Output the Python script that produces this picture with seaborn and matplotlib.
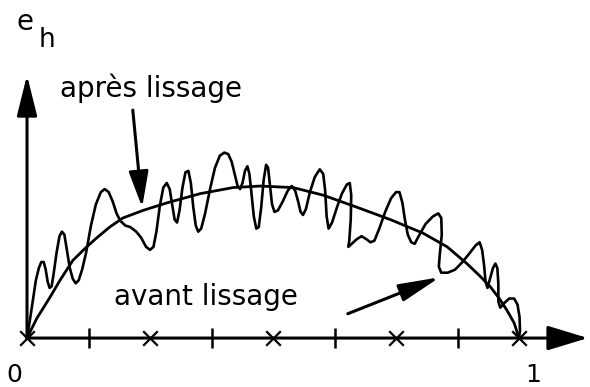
import matplotlib
matplotlib.use("Agg")
import matplotlib.pyplot as plt
import seaborn as sns
import pandas as pd

# courbe lissée (x normalisé, e_h relatif)
smooth_x = [0.0, 0.020, 0.047, 0.067, 0.093, 0.118, 0.142, 0.168, 0.195, 0.236,
            0.285, 0.352, 0.419, 0.474, 0.541, 0.602, 0.671, 0.738, 0.805, 0.854,
            0.894, 0.920, 0.941, 0.960, 0.976, 0.990, 1.0]
smooth_y = [0.0, 0.13, 0.27, 0.38, 0.51, 0.59, 0.66, 0.73, 0.79, 0.84,
            0.89, 0.95, 0.99, 1.0, 0.99, 0.94, 0.86, 0.78, 0.69, 0.60,
            0.49, 0.41, 0.34, 0.26, 0.18, 0.10, 0.0]

# courbe avant lissage (tracé à la main, lu point par point)
raw_x = [0.000, 0.006, 0.012, 0.018, 0.024, 0.029, 0.034, 0.038, 0.042, 0.046,
         0.050, 0.054, 0.060, 0.066, 0.071, 0.076, 0.081, 0.087, 0.093, 0.099,
         0.105, 0.112, 0.120, 0.130, 0.140, 0.150, 0.158, 0.166, 0.174, 0.182,
         0.190, 0.200, 0.210, 0.222, 0.232, 0.242, 0.250, 0.257, 0.263, 0.270,
         0.277, 0.284, 0.290, 0.295, 0.300, 0.305, 0.310, 0.316, 0.322, 0.328,
         0.333, 0.338, 0.343, 0.348, 0.354, 0.362, 0.372, 0.382, 0.392, 0.401,
         0.409, 0.416, 0.422, 0.428, 0.433, 0.438, 0.443, 0.448, 0.452, 0.456,
         0.461, 0.466, 0.471, 0.476, 0.481, 0.486, 0.490, 0.494, 0.498, 0.503,
         0.510, 0.520, 0.530, 0.538, 0.545, 0.551, 0.556, 0.561, 0.567, 0.575,
         0.585, 0.595, 0.602, 0.606, 0.609, 0.613, 0.620, 0.630, 0.640, 0.650,
         0.656, 0.659, 0.658, 0.655, 0.653, 0.660, 0.670, 0.680, 0.690, 0.698,
         0.706, 0.716, 0.728, 0.740, 0.750, 0.757, 0.763, 0.768, 0.774, 0.781,
         0.788, 0.796, 0.810, 0.825, 0.836, 0.842, 0.843, 0.839, 0.837, 0.842,
         0.855, 0.870, 0.885, 0.900, 0.912, 0.920, 0.925, 0.929, 0.932, 0.936,
         0.941, 0.947, 0.952, 0.956, 0.958, 0.958, 0.962, 0.970, 0.980, 0.990,
         0.997, 1.001, 1.002, 1.000]
raw_y = [0.00, 0.12, 0.25, 0.38, 0.46, 0.50, 0.50, 0.45, 0.37, 0.33,
         0.34, 0.42, 0.56, 0.67, 0.70, 0.68, 0.58, 0.46, 0.39, 0.36,
         0.38, 0.45, 0.56, 0.74, 0.88, 0.96, 0.98, 0.96, 0.90, 0.82,
         0.77, 0.74, 0.73, 0.70, 0.66, 0.60, 0.58, 0.60, 0.70, 0.87,
         0.99, 1.02, 0.98, 0.88, 0.78, 0.76, 0.84, 0.99, 1.09, 1.10,
         1.02, 0.86, 0.74, 0.70, 0.72, 0.82, 0.98, 1.12, 1.20, 1.22,
         1.21, 1.16, 1.08, 1.00, 0.98, 1.02, 1.10, 1.13, 1.08, 0.96,
         0.80, 0.72, 0.73, 0.86, 1.04, 1.14, 1.12, 1.00, 0.88, 0.83,
         0.84, 0.90, 0.97, 1.00, 0.97, 0.90, 0.83, 0.81, 0.85, 0.96,
         1.06, 1.11, 1.08, 0.97, 0.80, 0.72, 0.76, 0.86, 0.95, 1.01,
         1.02, 0.94, 0.78, 0.64, 0.60, 0.62, 0.65, 0.67, 0.65, 0.63,
         0.64, 0.72, 0.83, 0.92, 0.96, 0.96, 0.89, 0.78, 0.68, 0.63,
         0.62, 0.67, 0.75, 0.80, 0.82, 0.79, 0.68, 0.55, 0.47, 0.43,
         0.43, 0.45, 0.50, 0.56, 0.61, 0.63, 0.58, 0.48, 0.37, 0.33,
         0.39, 0.46, 0.49, 0.46, 0.36, 0.24, 0.20, 0.23, 0.26, 0.26,
         0.22, 0.14, 0.05, 0.00]

cross_pos = [0.0, 0.25, 0.5, 0.75, 1.0]
bar_pos = [0.125, 0.375, 0.625, 0.875]

sns.set_style("white")
plt.rcParams['font.family'] = ['DejaVu Sans']
plt.rcParams['text.color'] = 'black'

fig = plt.figure(figsize=(5.9, 3.87), dpi=100)
ax = fig.add_axes([0, 0, 1, 1])
ax.set_xlim(-0.0549, 1.1443)
ax.set_ylim(-0.322, 2.224)
ax.axis('off')

df_smooth = pd.DataFrame({'x': smooth_x, 'y': smooth_y})
df_raw = pd.DataFrame({'x': raw_x, 'y': raw_y})
sns.lineplot(data=df_smooth, x='x', y='y', sort=False, estimator=None,
             color='black', lw=2.0, solid_joinstyle='round', ax=ax)
sns.lineplot(data=df_raw, x='x', y='y', sort=False, estimator=None,
             color='black', lw=1.9, solid_joinstyle='round', ax=ax)

# axes avec flèches
ax.annotate('', xy=(1.14, 0), xytext=(0, 0),
            arrowprops=dict(arrowstyle='-|>,head_length=1.25,head_width=0.38',
                            mutation_scale=20, color='black', lw=2.2,
                            shrinkA=0, shrinkB=0))
ax.annotate('', xy=(0, 1.73), xytext=(0, 0),
            arrowprops=dict(arrowstyle='-|>,head_length=1.25,head_width=0.31',
                            mutation_scale=20, color='black', lw=2.2,
                            shrinkA=0, shrinkB=0))

# graduations
sns.scatterplot(x=cross_pos, y=[0] * len(cross_pos), marker='x', s=110,
                color='black', linewidth=1.6, ax=ax)
sns.scatterplot(x=bar_pos, y=[0] * len(bar_pos), marker='|', s=220,
                color='black', linewidth=1.8, ax=ax)

# annotations
ax.annotate('', xy=(0.234, 0.86), xytext=(0.215, 1.50),
            arrowprops=dict(arrowstyle='-|>,head_length=1.1,head_width=0.3',
                            mutation_scale=20, color='black', lw=2.2,
                            shrinkA=0, shrinkB=0))
ax.annotate('', xy=(0.839, 0.40), xytext=(0.652, 0.16),
            arrowprops=dict(arrowstyle='-|>,head_length=1.25,head_width=0.27',
                            mutation_scale=20, color='black', lw=2.2,
                            shrinkA=0, shrinkB=0))

ax.text(0.068, 1.585, 'après lissage', fontsize=20, ha='left', va='baseline')
ax.text(0.176, 0.217, 'avant lissage', fontsize=20, ha='left', va='baseline')
ax.text(-0.022, 2.026, 'e', fontsize=20, ha='left', va='baseline')
ax.text(0.024, 1.914, 'h', fontsize=19, ha='left', va='baseline')
ax.text(-0.026, -0.29, '0', fontsize=18, ha='center', va='baseline')
ax.text(1.028, -0.29, '1', fontsize=18, ha='center', va='baseline')

fig.savefig('out.png', dpi=100)
